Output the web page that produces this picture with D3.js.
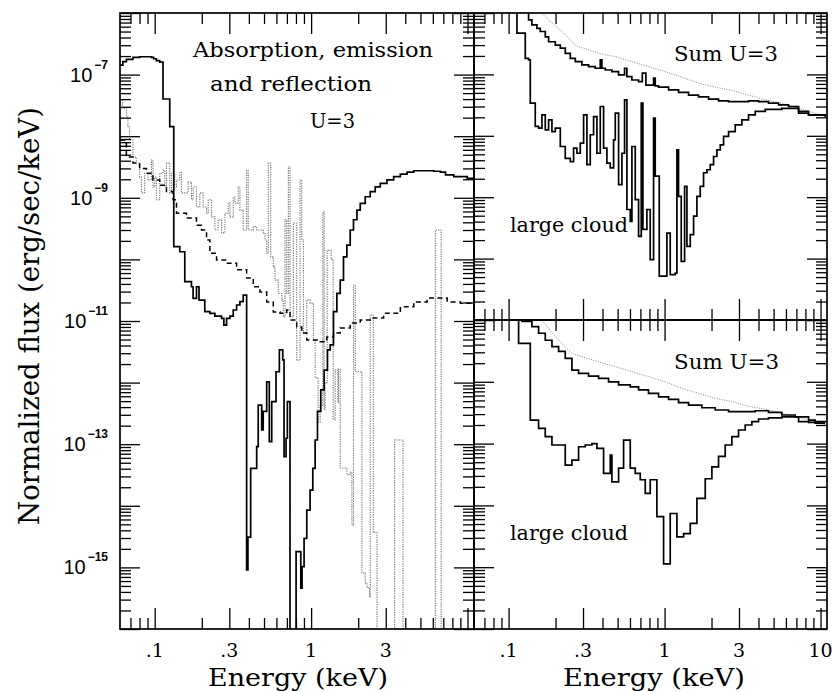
<!DOCTYPE html>
<html>
<head>
<meta charset="utf-8">
<script src="https://cdnjs.cloudflare.com/ajax/libs/d3/7.8.5/d3.min.js"></script>
<style>
  body { margin: 0; background: #fff; }
  text { fill: #000; }
</style>
</head>
<body>
<script>
// ---- left panel: absorption (solid), emission (dotted), reflection (dashed)
var absE = [0.0597,0.0626,0.0659,0.0726,0.0801,0.0953,0.0985,0.1025,0.1077,0.113,0.1248,0.1324,0.1446,0.1557,0.1718,0.176,0.185,0.192,0.209,0.2253,0.2425,0.2677,0.2768,0.288,0.3026,0.3177,0.334,0.3506,0.368,0.387,0.3945,0.4108,0.4487,0.459,0.483,0.494,0.52,0.5404,0.56,0.5966,0.6266,0.6587,0.6714,0.6915,0.705,0.733,0.8017,0.859,0.875,0.9016,0.938,0.985,1.025,1.061,1.098,1.153,1.2115,1.2724,1.324,1.39,1.461,1.535,1.611,1.693,1.778,1.866,1.963,2.061,2.218,2.388,2.57,2.767,3.055,3.371,3.72,4.107,4.53,6.08,6.71,7.23,8.17,9.96,11.09];
var absF = [1.43e-7,1.62e-7,1.77e-7,1.91e-7,1.95e-7,1.91e-7,1.81e-7,1.68e-7,1.6e-7,4.02e-8,1.43e-8,1.61e-10,1.33e-10,4.35e-11,3.6e-11,2.33e-11,3.6e-11,2.19e-11,1.42e-11,1.33e-11,1.2e-11,1.1e-11,8.6e-12,1.1e-11,1.2e-11,1.51e-11,1.82e-11,2.06e-11,2.64e-11,9.1e-16,3.1e-15,4.06e-14,9.1e-14,4.3e-13,1.7e-13,3.4e-13,1.03e-12,1.1e-13,4.9e-13,1.5e-12,3.4e-12,2.33e-12,6.3e-14,1.25e-13,4.9e-13,1e-18,1.8e-15,4.6e-16,1.03e-15,2.96e-15,8.5e-15,1.8e-14,4.06e-14,1.17e-13,3.4e-13,7.6e-13,1.6e-12,3.4e-12,4.1e-12,1.42e-11,2.81e-11,4.6e-11,1.1e-10,1.71e-10,3.0e-10,4.4e-10,6.3e-10,8.1e-10,1.04e-9,1.26e-9,1.5e-9,1.72e-9,1.95e-9,2.2e-9,2.43e-9,2.62e-9,2.75e-9,2.7e-9,2.62e-9,2.35e-9,2.2e-9,2.07e-9,1.95e-9];

var emiE = [0.0597,0.0621,0.0661,0.0674,0.0691,0.0726,0.0763,0.0801,0.0822,0.0863,0.0906,0.0953,0.0975,0.1,0.1025,0.1077,0.113,0.1159,0.1189,0.1248,0.128,0.1343,0.1378,0.1446,0.1483,0.1635,0.1718,0.176,0.185,0.1943,0.204,0.2145,0.2197,0.2309,0.2425,0.2546,0.2677,0.281,0.2951,0.3026,0.3177,0.3257,0.342,0.3506,0.368,0.387,0.3963,0.4267,0.4487,0.494,0.507,0.52,0.5324,0.5516,0.573,0.5875,0.617,0.649,0.664,0.681,0.698,0.7154,0.733,0.77,0.809,0.85,0.871,0.892,0.938,0.985,1.034,1.061,1.109,1.142,1.188,1.2115,1.229,1.267,1.343,1.384,1.425,1.483,1.496,1.535,1.693,1.778,1.823,1.867,1.915,2.113,2.218,2.275,2.364,2.388,2.497,2.637,3.42,3.87,6.23,6.78,11.09];
var emiF = [3.87e-8,2.87e-8,2.05e-8,1.41e-8,8.7e-9,4.6e-9,3.67e-9,2.18e-9,1.2e-9,2.5e-9,1.95e-9,4.1e-9,1.5e-9,2.18e-9,9.3e-10,2.5e-9,2.8e-9,1.5e-9,3.67e-9,1.2e-9,2.5e-9,1.5e-9,1.95e-9,2.6e-9,1.2e-9,1.8e-9,9.3e-10,1.5e-9,7.1e-10,1.2e-9,7.1e-10,5.6e-10,9.3e-10,4.9e-10,3.0e-10,4.4e-10,2.7e-10,5.6e-10,8.2e-10,4.9e-10,1.03e-9,8.2e-10,1.5e-9,6.3e-10,3.0e-10,2.8e-9,3.0e-10,3.4e-10,3.0e-10,2.7e-10,2.07e-10,1.26e-10,3.67e-9,1.1e-10,7.5e-11,4.6e-11,2.8e-11,2.2e-11,1.16e-11,4.4e-10,2.8e-11,3.2e-9,1.16e-11,3.9e-10,2.3e-12,1.95e-9,2.07e-10,6.3e-12,2.2e-11,1.95e-11,4.9e-12,1.2e-12,2.3e-13,4.3e-13,5.9e-10,3.6e-13,1.0e-12,1.4e-10,1.0e-10,2.5e-13,1.6e-12,4.7e-13,1.66e-12,4.1e-14,3.2e-14,3.5e-14,4.9e-15,3.8e-11,1.5e-12,8.1e-16,5.6e-16,4.7e-16,3.3e-16,1.26e-11,3.7e-15,1e-18,1.17e-13,1e-18,3.0e-10,1e-18,1e-18];

var refE = [0.0603,0.0659,0.0726,0.0801,0.0885,0.0975,0.1077,0.1189,0.131,0.1378,0.1596,0.185,0.1992,0.2145,0.2253,0.2486,0.288,0.334,0.387,0.4267,0.471,0.52,0.573,0.633,0.698,0.733,0.809,0.871,0.938,1.034,1.142,1.26,1.39,1.535,1.778,2.061,2.388,2.908,3.72,4.53,5.52,6.39,7.41,9.02,11.09];
var refF = [8.7e-9,4.6e-9,3.67e-9,3.0e-9,2.5e-9,1.95e-9,1.6e-9,1.26e-9,9.3e-10,5.6e-10,4.7e-10,3.6e-10,3.0e-10,2.07e-10,1.26e-10,9.8e-11,8.7e-11,6.8e-11,5.0e-11,3.6e-11,2.95e-11,2.04e-11,1.4e-11,1.33e-11,1.51e-11,1.04e-11,8.0e-12,6.4e-12,4.9e-12,4.9e-12,4.6e-12,5.5e-12,6.4e-12,7.7e-12,9.3e-12,1.04e-11,1.12e-11,1.33e-11,1.7e-11,2.04e-11,2.36e-11,2.36e-11,2.04e-11,1.95e-11,1.82e-11];

// ---- upper right panel: sum (solid), sum dotted, large cloud
var upSumE = [0.06,0.1248,0.1343,0.141,0.1519,0.1596,0.1719,0.1805,0.1992,0.2145,0.2309,0.2486,0.2677,0.2951,0.3257,0.3595,0.387,0.3963,0.4168,0.4593,0.507,0.554,0.573,0.617,0.681,0.72,0.759,0.85,0.871,0.915,1.061,1.229,1.425,1.652,1.915,2.218,2.57,2.98,3.455,4.005,4.64,5.38,6.23,7.23,8.37,10.7];
var upSumF = [3e-6,1.05e-6,7.7e-7,6.4e-7,5.6e-7,5.0e-7,4.1e-7,3.4e-7,3.0e-7,2.67e-7,2.2e-7,1.83e-7,1.61e-7,1.43e-7,1.34e-7,1.26e-7,1.72e-7,1.26e-7,1.18e-7,1.11e-7,9.8e-8,1.26e-7,9.2e-8,8.1e-8,7.6e-8,1.05e-7,6.7e-8,8.7e-8,6.5e-8,6.2e-8,5.6e-8,5.1e-8,4.6e-8,4.3e-8,3.95e-8,3.7e-8,3.6e-8,3.6e-8,3.7e-8,3.6e-8,3.4e-8,3.2e-8,3.0e-8,2.5e-8,2.2e-8,2.06e-8];

var upDotE = [0.1635,0.1805,0.1992,0.2253,0.2546,0.274,0.3257,0.3775,0.483,0.617,0.789,1.01,1.291,1.652,2.113,2.70,3.455,4.42,5.65,7.23,9.25,10.7];
var upDotF = [9.9e-7,7.7e-7,6.2e-7,4.7e-7,3.4e-7,2.9e-7,2.5e-7,2.2e-7,1.95e-7,1.61e-7,1.34e-7,1.11e-7,9.0e-8,7.2e-8,6.2e-8,5.5e-8,4.6e-8,3.85e-8,3.4e-8,2.8e-8,2.34e-8,2.06e-8];

var upCloudE = [0.06,0.1131,0.1279,0.1343,0.1377,0.1482,0.1557,0.1636,0.1718,0.1805,0.1896,0.1992,0.2145,0.2308,0.2485,0.261,0.2742,0.288,0.3026,0.3178,0.3338,0.3507,0.3684,0.387,0.4064,0.4269,0.4485,0.4711,0.4829,0.5073,0.5328,0.554,0.5735,0.6025,0.6175,0.6486,0.6813,0.7087,0.7264,0.7703,0.8091,0.85,0.8712,0.9245,0.9854,1.035,1.087,1.171,1.2,1.229,1.279,1.344,1.391,1.461,1.535,1.612,1.693,1.778,1.868,1.962,2.061,2.165,2.275,2.389,2.572,2.838,3.131,3.455,3.813,4.42,5.65,6.55,7.23,8.38,10.7];
var upCloudF = [3e-6,4.7e-7,1.83e-7,1.72e-7,3.4e-8,1.42e-8,1.33e-8,2.2e-8,1.25e-8,1.82e-8,1.17e-8,1.33e-8,6.7e-9,4.3e-9,3.8e-9,6.3e-9,5.2e-9,7.6e-9,2.2e-8,3.4e-9,1.04e-8,2.06e-8,5.2e-9,3.0e-8,6.3e-9,3.6e-9,3.0e-9,8.6e-9,2.34e-8,1.6e-9,5.2e-9,3.85e-8,6.3e-10,4.05e-10,6.7e-9,9.1e-10,2.3e-10,3.4e-8,3.0e-10,6.3e-10,9.6e-11,1.94e-8,2.2e-9,5.2e-11,5.2e-11,2.6e-10,5.5e-11,5.8e-11,5.9e-9,1.03e-9,9.0e-11,1.5e-9,1.58e-10,2.45e-10,4.9e-10,1.03e-9,1.5e-9,2.5e-9,2.8e-9,3.4e-9,4.6e-9,5.9e-9,7.1e-9,9.8e-9,1.17e-8,1.51e-8,1.82e-8,2.2e-8,2.5e-8,2.7e-8,2.8e-8,2.8e-8,2.34e-8,2.2e-8,2.06e-8];

// ---- lower right panel: sum (solid), sum dotted, large cloud
var loSumE = [0.06,0.1218,0.1411,0.1557,0.1718,0.1896,0.2092,0.2308,0.2547,0.281,0.3257,0.3775,0.4375,0.5073,0.6025,0.6813,0.789,0.915,1.061,1.229,1.425,1.735,2.113,2.572,3.131,3.813,4.64,5.65,6.88,8.38,9.24,10.7];
var loSumF = [3e-6,9.5e-7,7.8e-7,6.1e-7,4.7e-7,3.7e-7,3.1e-7,2.4e-7,1.55e-7,1.37e-7,1.24e-7,1.14e-7,1.0e-7,8.9e-8,8.3e-8,7.4e-8,6.5e-8,5.7e-8,5.2e-8,4.6e-8,4.2e-8,3.8e-8,3.5e-8,3.3e-8,3.3e-8,3.4e-8,3.2e-8,2.9e-8,2.7e-8,2.4e-8,2.26e-8,2.2e-8];

var loDotE = [0.1636,0.1805,0.1992,0.2253,0.2547,0.295,0.3775,0.4829,0.6175,0.789,1.01,1.291,1.652,2.113,2.70,3.455,4.42,5.65,7.23,9.25,10.7];
var loDotF = [1.0e-6,7.3e-7,5.4e-7,3.9e-7,2.9e-7,2.55e-7,2.1e-7,1.76e-7,1.46e-7,1.21e-7,1.0e-7,7.8e-8,6.5e-8,5.4e-8,4.8e-8,4.0e-8,3.6e-8,3.1e-8,2.66e-8,2.26e-8,2.0e-8];

var loCloudE = [0.06,0.1159,0.1377,0.1557,0.1718,0.1896,0.2092,0.2308,0.2547,0.281,0.3101,0.342,0.3684,0.4064,0.4485,0.4596,0.5073,0.546,0.6025,0.6486,0.6983,0.7518,0.8091,0.893,0.9854,1.087,1.2,1.324,1.461,1.612,1.823,2.011,2.218,2.448,2.701,2.98,3.289,3.629,4.005,4.64,5.65,6.55,7.23,8.38,9.24,10.7];
var loCloudF = [3e-6,4.2e-7,2.4e-8,1.77e-8,1.3e-8,9.5e-9,9.5e-9,4.5e-9,5.4e-9,8.9e-9,9.5e-9,1.0e-8,8.4e-9,3.3e-9,6.5e-9,2.4e-9,4.0e-9,1.14e-8,4.0e-9,3.3e-9,2.6e-9,1.57e-9,2.6e-9,6.6e-10,1.13e-10,7.4e-10,3.1e-10,3.5e-10,5.1e-10,1.3e-9,2.7e-9,4.2e-9,6.2e-9,9.5e-9,1.3e-8,1.66e-8,2.0e-8,2.26e-8,2.5e-8,2.6e-8,2.7e-8,2.7e-8,2.26e-8,2.2e-8,2.14e-8,2.14e-8];

// ---- axes
var xMajor = [0.1, 0.3, 1, 3, 10];
var xMinor = [0.07, 0.08, 0.09, 0.2, 0.4, 0.5, 0.6, 0.7, 0.8, 0.9, 2, 4, 5, 6, 7, 8, 9];
var xLabels = [".1", ".3", "1", "3", "10"];
var yLabelExp = [-7, -9, -11, -13, -15];

var w = 832, h = 692;
var svg = d3.select("body").append("svg")
  .attr("width", w)
  .attr("height", h);

var xL = d3.scaleLog().domain([0.06, 11]).range([120, 474]);
var xR = d3.scaleLog().domain([0.06, 11]).range([474, 827]);
var yL = d3.scaleLog().domain([1e-16, 1e-6]).range([629, 13]);
var yU = d3.scaleLog().domain([1e-11, 1e-6]).range([320, 13]);
var yD = d3.scaleLog().domain([1e-11, 1e-6]).range([629, 320]);

function decades(lo, hi) {
  var maj = [], min = [];
  for (var k = lo; k <= hi; k++) {
    maj.push(Math.pow(10, k));
    if (k < hi) for (var m = 2; m <= 9; m++) min.push(m * Math.pow(10, k));
  }
  return {maj: maj, min: min};
}

function tickAxis(axis, pos, horiz, vals, len) {
  var g = svg.append("g")
    .attr("transform", horiz ? "translate(0," + pos + ")" : "translate(" + pos + ",0)")
    .call(axis.tickValues(vals).tickSize(len).tickSizeOuter(0).tickFormat(""));
  g.select(".domain").remove();
  g.selectAll("line").attr("stroke", "#000").attr("stroke-width", 1.3);
}

function frameTicks(x, y, yd) {
  var x0 = x.range()[0], x1 = x.range()[1];
  var y0 = y.range()[1], y1 = y.range()[0];
  tickAxis(d3.axisTop(x), y1, true, xMajor, 21);
  tickAxis(d3.axisTop(x), y1, true, xMinor, 11);
  tickAxis(d3.axisBottom(x), y0, true, xMajor, 21);
  tickAxis(d3.axisBottom(x), y0, true, xMinor, 11);
  tickAxis(d3.axisRight(y), x0, false, yd.maj, 20);
  tickAxis(d3.axisRight(y), x0, false, yd.min, 11);
  tickAxis(d3.axisLeft(y), x1, false, yd.maj, 20);
  tickAxis(d3.axisLeft(y), x1, false, yd.min, 11);
}

function clip(id, x, y) {
  svg.append("clipPath").attr("id", id).append("rect")
    .attr("x", x.range()[0]).attr("y", y.range()[1])
    .attr("width", x.range()[1] - x.range()[0])
    .attr("height", y.range()[0] - y.range()[1]);
}
clip("cL", xL, yL);
clip("cU", xR, yU);
clip("cD", xR, yD);

function curve(E, F, x, y, clipId, style, stepped) {
  var line = d3.line()
    .x(function(d) { return x(d[0]); })
    .y(function(d) { return y(d[1]); })
    .curve(stepped ? d3.curveStepAfter : d3.curveLinear);
  svg.append("path")
    .datum(d3.zip(E, F))
    .attr("clip-path", "url(#" + clipId + ")")
    .attr("fill", "none")
    .attr("stroke", style.color)
    .attr("stroke-width", style.width)
    .attr("stroke-dasharray", style.dash || null)
    .attr("d", line);
}

var solid = {color: "#000", width: 1.7};
var dotted = {color: "#777", width: 1.1, dash: "1.3,1.1"};
var fineDot = {color: "#888", width: 1, dash: "1,1.4"};
var dashed = {color: "#000", width: 1.5, dash: "5,3.5"};

curve(emiE, emiF, xL, yL, "cL", dotted, true);
curve(refE, refF, xL, yL, "cL", dashed, true);
curve(absE, absF, xL, yL, "cL", solid, true);

curve(upDotE, upDotF, xR, yU, "cU", fineDot, false);
curve(upSumE, upSumF, xR, yU, "cU", solid, true);
curve(upCloudE, upCloudF, xR, yU, "cU", solid, true);

curve(loDotE, loDotF, xR, yD, "cD", fineDot, false);
curve(loSumE, loSumF, xR, yD, "cD", solid, true);
curve(loCloudE, loCloudF, xR, yD, "cD", solid, true);

frameTicks(xL, yL, decades(-16, -6));
frameTicks(xR, yU, decades(-11, -6));
frameTicks(xR, yD, decades(-11, -6));

// frames
[[xL, yL], [xR, yU], [xR, yD]].forEach(function(p) {
  svg.append("rect")
    .attr("x", p[0].range()[0]).attr("y", p[1].range()[1])
    .attr("width", p[0].range()[1] - p[0].range()[0])
    .attr("height", p[1].range()[0] - p[1].range()[1])
    .attr("fill", "none").attr("stroke", "#000").attr("stroke-width", 1.7);
});

// text helpers
var serif = "DejaVu Serif";
var sans = "Liberation Sans";

function label(t, x, y, size, len, anchor, transform) {
  var el = svg.append("text")
    .attr("font-family", serif)
    .attr("font-size", size)
    .attr("text-anchor", anchor || "start")
    .text(t);
  if (transform) el.attr("transform", transform);
  else el.attr("x", x).attr("y", y);
  if (len) el.attr("textLength", len).attr("lengthAdjust", "spacingAndGlyphs");
  return el;
}

// x tick labels
[xL, xR].forEach(function(x, i) {
  svg.selectAll(null)
    .data(i === 0 ? xMajor.slice(0, 4) : xMajor)
    .enter().append("text")
    .attr("x", function(d) { return x(d); })
    .attr("y", 657)
    .attr("text-anchor", "middle")
    .attr("font-family", serif)
    .attr("font-size", 19)
    .text(function(d) { return xLabels[xMajor.indexOf(d)]; });
});

// y tick labels 10^n
yLabelExp.forEach(function(e) {
  var ty = yL(Math.pow(10, e));
  var sup = svg.append("text")
    .attr("x", 108).attr("y", ty - 6)
    .attr("text-anchor", "end")
    .attr("font-family", sans)
    .attr("font-weight", "bold")
    .attr("font-size", 12)
    .text("\u2212" + (-e));
  var sw = sup.node().getComputedTextLength();
  svg.append("text")
    .attr("x", 108 - sw - 2).attr("y", ty + 7)
    .attr("text-anchor", "end")
    .attr("font-family", sans)
    .attr("font-size", 20)
    .text("10");
});

// axis titles
label("Energy (keV)", 298, 686, 25, 180, "middle");
label("Energy (keV)", 654, 686, 25, 182, "middle");
label("Normalized flux (erg/sec/keV)", 0, 0, 27, 418, "middle", "translate(39,316) rotate(-90)");

// annotations
label("Absorption, emission", 193, 57, 21, 240);
label("and reflection", 210, 91, 21, 162);
label("U=3", 310, 128, 21, 45);
label("Sum U=3", 674, 61, 21, 104);
label("large cloud", 510, 232, 20, 118);
label("Sum U=3", 674, 369, 21, 105);
label("large cloud", 510, 540, 20, 118);
</script>
</body>
</html>
